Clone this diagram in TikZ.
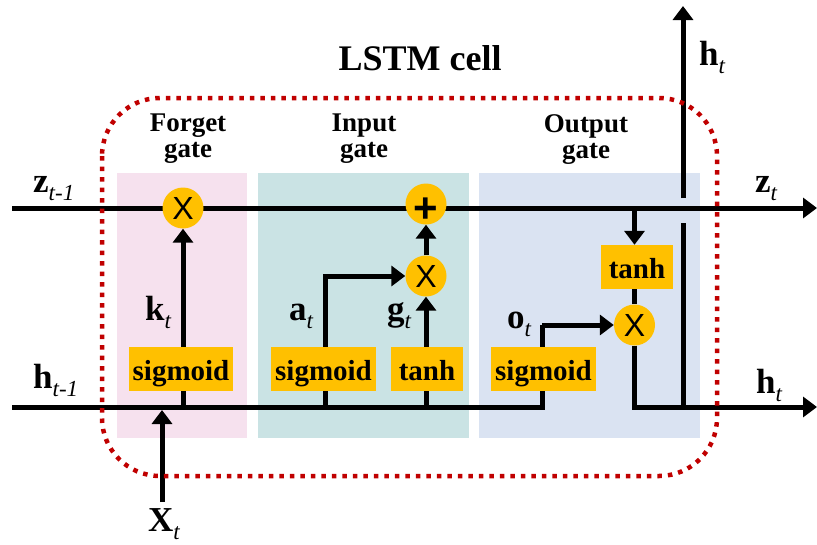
\documentclass[tikz,border=0pt]{standalone}
\usepackage{fontspec}
\setmainfont{Liberation Serif}
\newfontfamily\symsans{Liberation Sans}
\usetikzlibrary{arrows.meta}
\definecolor{gold}{HTML}{FFC000}
\definecolor{pinkbg}{RGB}{246,225,238}
\definecolor{tealbg}{RGB}{202,227,228}
\definecolor{bluebg}{RGB}{218,227,242}
\definecolor{dotred}{HTML}{C00000}
\pgfdeclarelayer{panels}
\pgfdeclarelayer{wires}
\pgfsetlayers{panels,wires,main}
\newcommand\varlbl[2]{\textbf{#1}\raisebox{-8pt}{\fontsize{23}{23}\selectfont\textit{#2}}}
\begin{document}
\begin{tikzpicture}[x=1pt,y=-1pt,
  wire/.style={line width=5pt},
  arr/.style={wire,-{Triangle[width=20pt,length=14pt]}},
  fn/.style={fill=gold, inner sep=0pt, minimum height=44pt, text height=24pt, text depth=2pt, font=\fontsize{29}{29}\selectfont\bfseries},
  op/.style={circle, fill=gold, minimum size=41pt, inner sep=0pt, text height=23pt, text depth=0pt, font=\symsans\fontsize{32}{32}\selectfont},
  plusglyph/.style={anchor=base, inner sep=0pt, font=\symsans\bfseries\fontsize{42}{42}\selectfont},
  lbl/.style={anchor=base west, inner sep=0pt, font=\fontsize{35}{35}\selectfont},
  gatelbl/.style={anchor=north, inner sep=0pt, align=center, font=\fontsize{27}{26}\selectfont\bfseries},
  border/.style={draw=dotred, line width=4.5pt, dash pattern=on 4.5pt off 6pt, rounded corners=58pt}]
\useasboundingbox (0,0) rectangle (817,544);

% panels
\begin{pgfonlayer}{panels}
\fill[pinkbg] (117,173) rectangle (247,438);
\fill[tealbg] (258,173) rectangle (469,438);
\fill[bluebg] (479,173) rectangle (700,438);
\end{pgfonlayer}

% dotted cell border
\draw[border] (102,98) rectangle (717,476);

% function boxes
\node[fn, minimum width=104pt] (fsig) at (181,369) {sigmoid};
\node[fn, minimum width=105pt] (isig) at (323.5,369) {sigmoid};
\node[fn, minimum width=72pt] (itanh) at (427,369) {tanh};
\node[fn, minimum width=105pt] (osig) at (543.5,369) {sigmoid};
\node[fn, minimum width=72pt] (otanh) at (637,267) {tanh};

% operators
\node[op] (fx) at (183,208) {X};
\node[op] (plus) at (426,204) {};
\node[plusglyph] (plustxt) at (426,222) {+};
\node[op] (ix) at (426,276) {X};
\node[op] (ox) at (634.5,325) {X};

% coordinates
\coordinate (zin) at (12,208);
\coordinate (zout) at (817,208);
\coordinate (hin) at (12,407);
\coordinate (hout) at (817,407);
\coordinate (fj) at (183,407);
\coordinate (ij) at (325,407);
\coordinate (tj) at (426,407);
\coordinate (ocorner) at (542,325);
\coordinate (obr) at (634.5,208);
\coordinate (hup) at (683,407);
\coordinate (gaplow) at (683,223);
\coordinate (gaphigh) at (683,198);
\coordinate (htop) at (683,6);
\coordinate (xin) at (162,502);
\coordinate (xtip) at (162,410);

% wires
\begin{pgfonlayer}{wires}
\draw[arr] (zin) -- (zout);
\draw[wire] (hin) -| (ocorner);
\draw[arr] (ocorner) -- (ox.west);
\draw[arr] (fj) -- (fx.south);
\draw[arr] (ij) |- (ix.west);
\draw[arr] (tj) -- (ix.south);
\draw[arr] (ix.north) -- (plus.south);
\draw[arr] (obr) -- (obr |- otanh.north);
\draw[wire] (ox.north |- otanh.south) -- (ox.north);
\draw[arr] (ox.south) |- (hout);
\draw[wire] (hup) -- (gaplow);
\draw[arr] (gaphigh) -- (htop);
\draw[arr] (xin) -- (xtip);
\end{pgfonlayer}

% labels
\node[anchor=base, font=\fontsize{36}{36}\selectfont\bfseries] (title) at (420,70) {LSTM cell};
\node[gatelbl] (fg) at (188,114) {Forget\\gate};
\node[gatelbl] (ig) at (364,114) {Input\\gate};
\node[gatelbl] (og) at (586,114) {Output\\gate};

\node[lbl] (lzin) at (33,192) {\varlbl{z}{t-1}};
\node[lbl] (lhin) at (33,388) {\varlbl{h}{t-1}};
\node[lbl] (lzout) at (755,192) {\varlbl{z}{t}};
\node[lbl] (lhout) at (756,393) {\varlbl{h}{t}};
\node[lbl] (lhup) at (699,65) {\varlbl{h}{t}};
\node[lbl] (lk) at (145,320) {\varlbl{k}{t}};
\node[lbl] (la) at (289,320) {\varlbl{a}{t}};
\node[lbl] (lg) at (387,320) {\varlbl{g}{t}};
\node[lbl] (lo) at (507,328) {\varlbl{o}{t}};
\node[lbl] (lx) at (148,531) {\varlbl{X}{t}};
\end{tikzpicture}
\end{document}
